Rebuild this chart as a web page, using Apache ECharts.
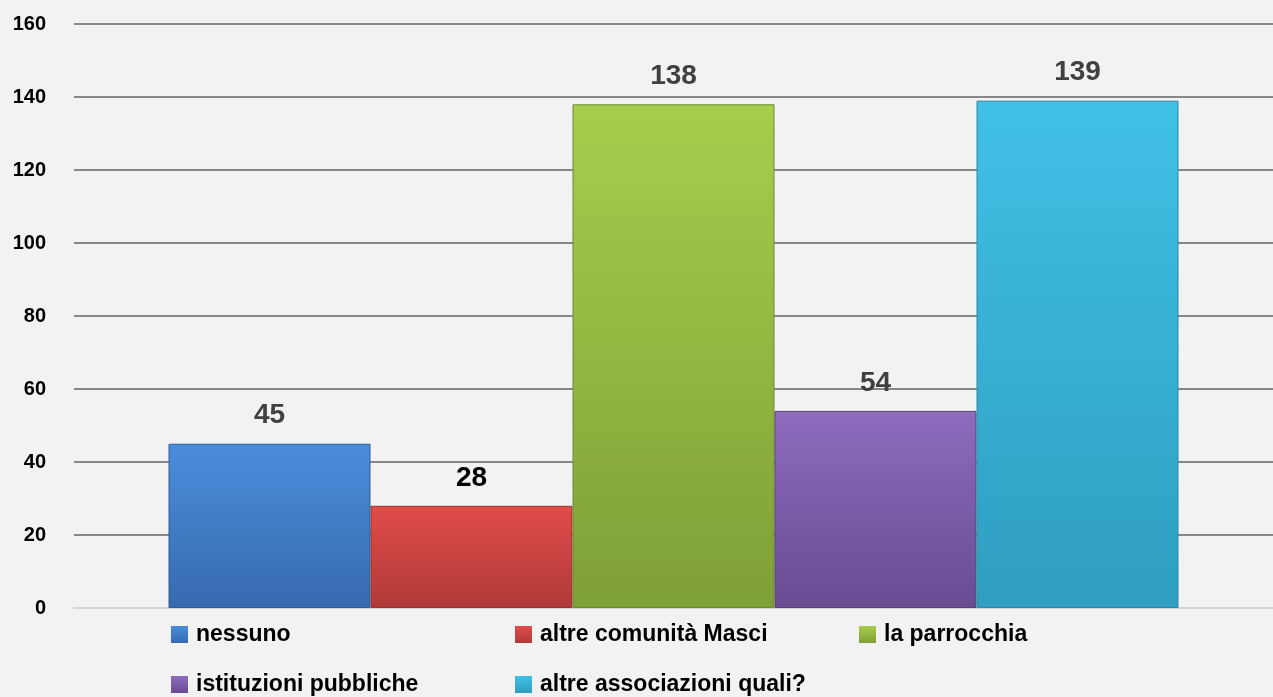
<!DOCTYPE html>
<html>
<head>
<meta charset="utf-8">
<script src="https://cdn.jsdelivr.net/npm/echarts@6/dist/echarts.min.js"></script>
<style>
  html, body { margin: 0; padding: 0; background: #f2f2f2; }
  #chart { width: 1273px; height: 697px; }
</style>
</head>
<body>
<div id="chart"></div>
<script>
  // data
  var seriesNames = ['nessuno', 'altre comunità Masci', 'la parrocchia', 'istituzioni pubbliche', 'altre associazioni quali?'];
  var seriesValues = [45, 28, 138, 54, 139];
  var yTicks = [0, 20, 40, 60, 80, 100, 120, 140, 160];

  var colorTop = ['#4a8ddb', '#e04c4a', '#a8cd4c', '#8e6bbd', '#40c0e6'];
  var colorBottom = ['#376ab0', '#b03a38', '#7f9f37', '#674c92', '#2f9ec0'];
  var borderCol = ['#2f5d98', '#973230', '#6d8a2f', '#58407e', '#2a88a5'];
  var labelCol = ['#404040', '#000000', '#404040', '#404040', '#404040'];
  // legend slots: [left, top]
  var legendPos = [[166, 618], [510, 618], [854, 618], [166, 668], [510, 668]];

  var font = "'Liberation Sans', Arial, sans-serif";

  var chart = echarts.init(document.getElementById('chart'));

  var series = seriesNames.map(function (name, i) {
    return {
      name: name,
      type: 'bar',
      data: [seriesValues[i]],
      barWidth: 202,
      barGap: '0%',
      itemStyle: {
        color: new echarts.graphic.LinearGradient(0, 0, 0, 1, [
          {offset: 0, color: colorTop[i]},
          {offset: 1, color: colorBottom[i]}
        ]),
        borderColor: borderCol[i],
        borderWidth: 1
      },
      label: {
        show: true,
        position: 'top',
        distance: 14,
        color: labelCol[i],
        fontFamily: font,
        fontWeight: 'bold',
        fontSize: 28
      }
    };
  });

  var legends = seriesNames.map(function (name, i) {
    return {
      data: [name],
      left: legendPos[i][0],
      top: legendPos[i][1],
      itemWidth: 17,
      itemHeight: 17,
      icon: 'rect',
      itemStyle: { borderWidth: 0 },
      textStyle: {
        color: '#000',
        fontFamily: font,
        fontWeight: 'bold',
        fontSize: 23,
        padding: [0, 0, 0, 3]
      }
    };
  });

  chart.setOption({
    backgroundColor: '#f2f2f2',
    animation: false,
    grid: { left: 74, right: 0, top: 24, bottom: 89 },
    legend: legends,
    xAxis: {
      type: 'category',
      data: [''],
      axisLine: { lineStyle: { color: '#d4d4d4', width: 2 } },
      axisTick: { show: false },
      axisLabel: { show: false }
    },
    yAxis: {
      type: 'value',
      min: yTicks[0],
      max: yTicks[yTicks.length - 1],
      interval: 20,
      axisLine: { show: false },
      axisTick: { show: false },
      axisLabel: {
        color: '#000',
        fontFamily: font,
        fontWeight: 'bold',
        fontSize: 20,
        margin: 28
      },
      splitLine: { lineStyle: { color: '#878787', width: 2 } }
    },
    series: series
  });
</script>
</body>
</html>
